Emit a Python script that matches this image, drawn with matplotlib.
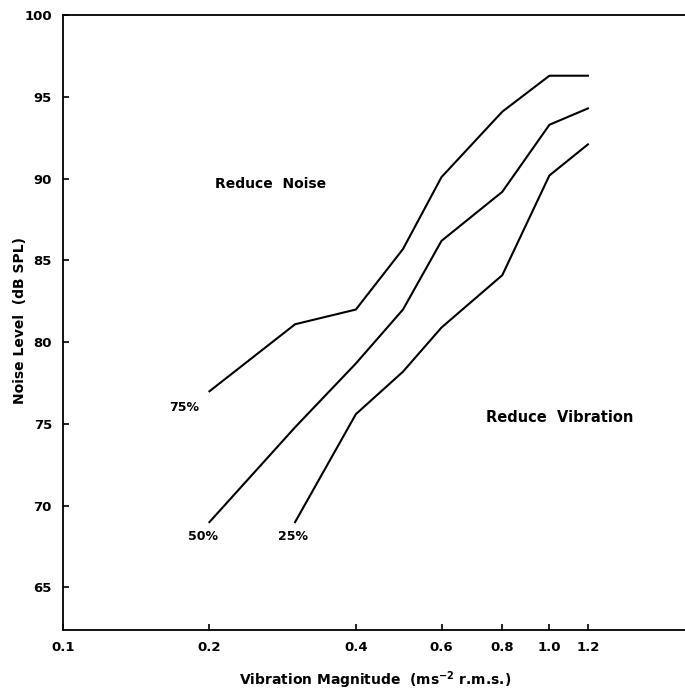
import matplotlib
matplotlib.use("Agg")
import matplotlib.pyplot as plt

# percentile curves
x75 = [0.2, 0.3, 0.4, 0.5, 0.6, 0.8, 1.0, 1.2]
y75 = [77.0, 81.1, 82.0, 85.7, 90.1, 94.1, 96.3, 96.3]

x50 = [0.2, 0.3, 0.4, 0.5, 0.6, 0.8, 1.0, 1.2]
y50 = [69.0, 74.8, 78.7, 82.0, 86.2, 89.2, 93.3, 94.3]

x25 = [0.3, 0.4, 0.5, 0.6, 0.8, 1.0, 1.2]
y25 = [69.0, 75.6, 78.2, 80.9, 84.1, 90.2, 92.1]

xticks = [0.1, 0.2, 0.4, 0.6, 0.8, 1.0, 1.2]
xtick_labels = ["0.1", "0.2", "0.4", "0.6", "0.8", "1.0", "1.2"]
yticks = [65, 70, 75, 80, 85, 90, 95, 100]

plt.rcParams['font.family'] = 'DejaVu Sans'

fig = plt.figure(figsize=(6.85, 6.92), dpi=100)
ax = fig.add_axes([0.092, 0.0896, 0.908, 0.8884])

for xs, ys in [(x75, y75), (x50, y50), (x25, y25)]:
    ax.plot(xs, ys, color='black', linewidth=1.5)

ax.set_xscale('log')
ax.set_xlim(0.1, 1.9)
ax.set_ylim(62.4, 100)

ax.set_xticks(xticks)
ax.set_xticklabels(xtick_labels, fontsize=9.5, fontweight='bold')
ax.xaxis.set_minor_locator(matplotlib.ticker.NullLocator())
ax.set_yticks(yticks)
ax.set_yticklabels([str(v) for v in yticks], fontsize=9.5, fontweight='bold')
ax.tick_params(direction='in', length=4, width=1.2, pad=8, top=False, right=False)

ax.spines['right'].set_visible(False)
for s in ['top', 'left', 'bottom']:
    ax.spines[s].set_linewidth(1.3)

# curve labels and region notes
ax.text(0.177, 76.0, "75%", fontsize=9, fontweight='bold', ha='center', va='center')
ax.text(0.194, 68.1, "50%", fontsize=9, fontweight='bold', ha='center', va='center')
ax.text(0.297, 68.1, "25%", fontsize=9, fontweight='bold', ha='center', va='center')
ax.text(0.205, 89.7, "Reduce  Noise", fontsize=10, fontweight='bold', ha='left', va='center')
ax.text(0.74, 75.4, "Reduce  Vibration", fontsize=10.5, fontweight='bold', ha='left', va='center')

fig.text(0.029, 1 - 321 / 692, "Noise Level  (dB SPL)", rotation=90, fontsize=10,
         fontweight='bold', ha='center', va='center')
fig.text(375 / 685, 1 - 680 / 692, r"Vibration Magnitude  (ms$^{\mathbf{-2}}$ r.m.s.)",
         fontsize=10, fontweight='bold', ha='center', va='center')

fig.savefig('out.png', dpi=100)
